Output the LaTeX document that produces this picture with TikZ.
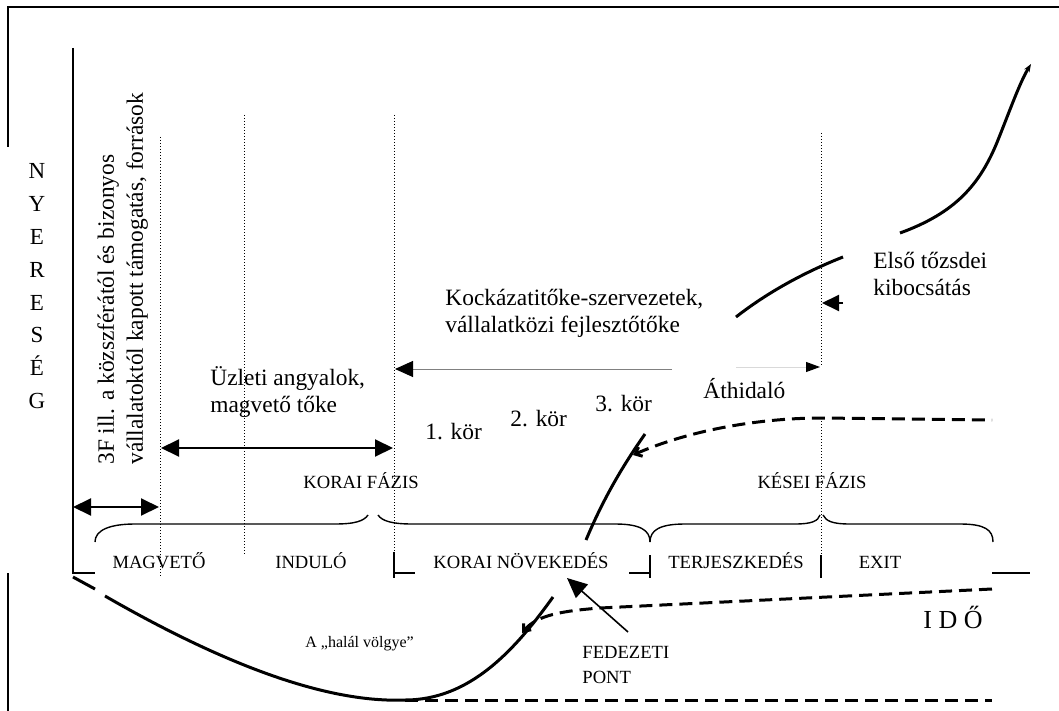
\documentclass[tikz,border=0pt]{standalone}
\usepackage{fontspec}
\setmainfont{Liberation Serif}
\usetikzlibrary{arrows.meta}

\begin{document}
\begin{tikzpicture}[x=0.5pt, y=-0.5pt,
    every node/.style={inner sep=0pt, align=left},
    txt/.style={font=\fontsize{11.7}{13.5}\selectfont},
    caps/.style={font=\fontsize{9.3}{12.5}\selectfont},
    note/.style={font=\fontsize{8}{10}\selectfont},
    rottxt/.style={font=\fontsize{11.7}{14.5}\selectfont, rotate=90},
    frameline/.style={line width=1pt},
    axisline/.style={line width=0.65pt},
    guide/.style={densely dotted, line width=0.5pt},
    bracket/.style={line width=0.7pt},
    growth/.style={line width=1.5pt},
    forecast/.style={line width=1.5pt, dash pattern=on 6.5pt off 3.5pt},
    bigtip/.tip={Triangle[length=9pt,width=8.5pt]},
    span/.style={line width=1pt, arrows={bigtip-bigtip}}]

    \useasboundingbox (0,0) rectangle (1059,711);

    % keret es tengelyek
    \draw[frameline] (8,147) -- (8,7) -- (1059,7);
    \draw[frameline] (8,573) -- (8,711);
    \draw[axisline] (73,48) -- (73,573) -- (95,573);
    \draw[axisline] (394,552) -- (394,578);
    \draw[axisline] (394,573) -- (415,573);
    \draw[axisline] (629,573) -- (650,573);
    \draw[axisline] (650,555) -- (650,578);
    \draw[axisline] (821,555) -- (821,578);
    \draw[axisline] (992,573) -- (1030,573);

    \draw[guide] (160,137) -- (160,578);
    \draw[guide] (244,115) -- (244,555);
    \draw[guide] (394,115) -- (394,552);
    \draw[guide] (821,133) -- (821,367);
    \draw[guide] (821,418) -- (821,555);

    % kapcsos zarojelek
    \draw[bracket] (95,542) .. controls (95,530) and (110,524) .. (135,524) -- (335,524) .. controls (355,524) and (364,521) .. (368,515);
    \draw[bracket] (378,515) .. controls (382,521) and (392,524) .. (412,524) -- (615,524) .. controls (640,524) and (650,530) .. (650,542);
    \draw[bracket] (650,542) .. controls (650,530) and (660,524) .. (685,524) -- (795,524) .. controls (812,524) and (818,521) .. (820,515);
    \draw[bracket] (823,515) .. controls (826,521) and (832,524) .. (850,524) -- (960,524) .. controls (985,524) and (993,530) .. (993,542);

    % gorbek
    \draw[growth] (73,577) -- (95,589);
    \draw[growth] (105,596) .. controls (230,668) and (330,703) .. (405,700) .. controls (470,700) and (515,650) .. (553,597);
    \draw[growth] (586,540) .. controls (604,497) and (624,464) .. (645,434);
    \draw[growth] (736,317) .. controls (768,292) and (805,272) .. (843,257);
    \draw[growth, -{Stealth[length=4pt,width=3pt]}] (900,233) .. controls (955,213) and (980,185) .. (998,140) .. controls (1010,110) and (1020,82) .. (1031,64);
    \draw[forecast, {Straight Barb[length=3pt,width=5pt]}-] (633,455) .. controls (690,430) and (760,418) .. (822,418) -- (992,420);
    \draw[forecast, {Straight Barb[length=3pt,width=5pt]}-] (522,633) .. controls (537,615) and (562,611) .. (600,608) -- (992,589);
    \draw[forecast] (405,700) -- (992,700);

    % szovegek
    \node[font=\fontsize{11.5}{16.45}\selectfont, align=center, anchor=north] (profit) at (37,163) {N\\Y\\E\\R\\E\\S\\É\\G};
    \node[rottxt, anchor=north west] (grants) at (97,465) {3F ill. a közszférától és bizonyos\\vállalatoktól kapott támogatás, források};
    \node[txt, anchor=base west] (angels) at (210,412) {Üzleti angyalok,\\magvető tőke};
    \node[txt, anchor=base west] (vcfirms) at (445,332) {Kockázatitőke-szervezetek,\\vállalatközi fejlesztőtőke};
    \node[txt, anchor=base west] (ipo) at (873,295) {Első tőzsdei\\kibocsátás};
    \node[txt, anchor=base west] (bridge) at (703,398) {Áthidaló};
    \node[txt, anchor=base west] (rounda) at (425,439) {1. kör};
    \node[txt, anchor=base west] (roundb) at (510,426) {2. kör};
    \node[txt, anchor=base west] (roundc) at (595,411) {3. kör};
    \node[caps, anchor=base] (earlyphase) at (361,488) {KORAI FÁZIS};
    \node[caps, anchor=base] (latephase) at (812,488) {KÉSEI FÁZIS};
    \node[caps, anchor=base] (seed) at (159,568) {MAGVETŐ};
    \node[caps, anchor=base] (startup) at (311,568) {INDULÓ};
    \node[caps, anchor=base] (earlygrowth) at (521,568) {KORAI NÖVEKEDÉS};
    \node[caps, anchor=base] (expansion) at (736,568) {TERJESZKEDÉS};
    \node[caps, anchor=base] (exit) at (880,568) {EXIT};
    \node[note, anchor=base west] (valley) at (305,647) {A „halál völgye”};
    \node[caps, anchor=base west] (breakeven) at (582,683) {FEDEZETI\\PONT};
    \node[font=\fontsize{13}{15}\selectfont, anchor=base west] (time) at (923,628) {I D Ő};

    % nyilak
    \coordinate (seedL) at (73,507);
    \coordinate (seedR) at (159,507);
    \coordinate (angelL) at (161,448);
    \coordinate (angelR) at (393,448);
    \coordinate (vcL) at (395,369);
    \coordinate (vcM) at (672,369);
    \coordinate (bridgeL) at (736,367);
    \coordinate (bridgeR) at (820,367);
    \coordinate (ipoT) at (843,303);
    \coordinate (ipoH) at (822,303);
    \coordinate (bepT) at (628,632);
    \coordinate (bepH) at (567,578);
    \draw[span] (seedL) -- (seedR);
    \draw[span] (angelL) -- (angelR);
    \draw[gray, line width=0.5pt, -{Triangle[length=9pt,width=8pt,color=black]}] (vcM) -- (vcL);
    \draw[gray!30, line width=0.5pt, -{Triangle[length=7pt,width=5pt,color=black]}] (bridgeL) -- (bridgeR);
    \draw[line width=1pt, -{Triangle[length=8.5pt,width=8pt]}] (ipoT) -- (ipoH);
    \draw[line width=0.8pt, -{Triangle[length=10pt,width=9pt]}] (bepT) -- (bepH);
\end{tikzpicture}
\end{document}
